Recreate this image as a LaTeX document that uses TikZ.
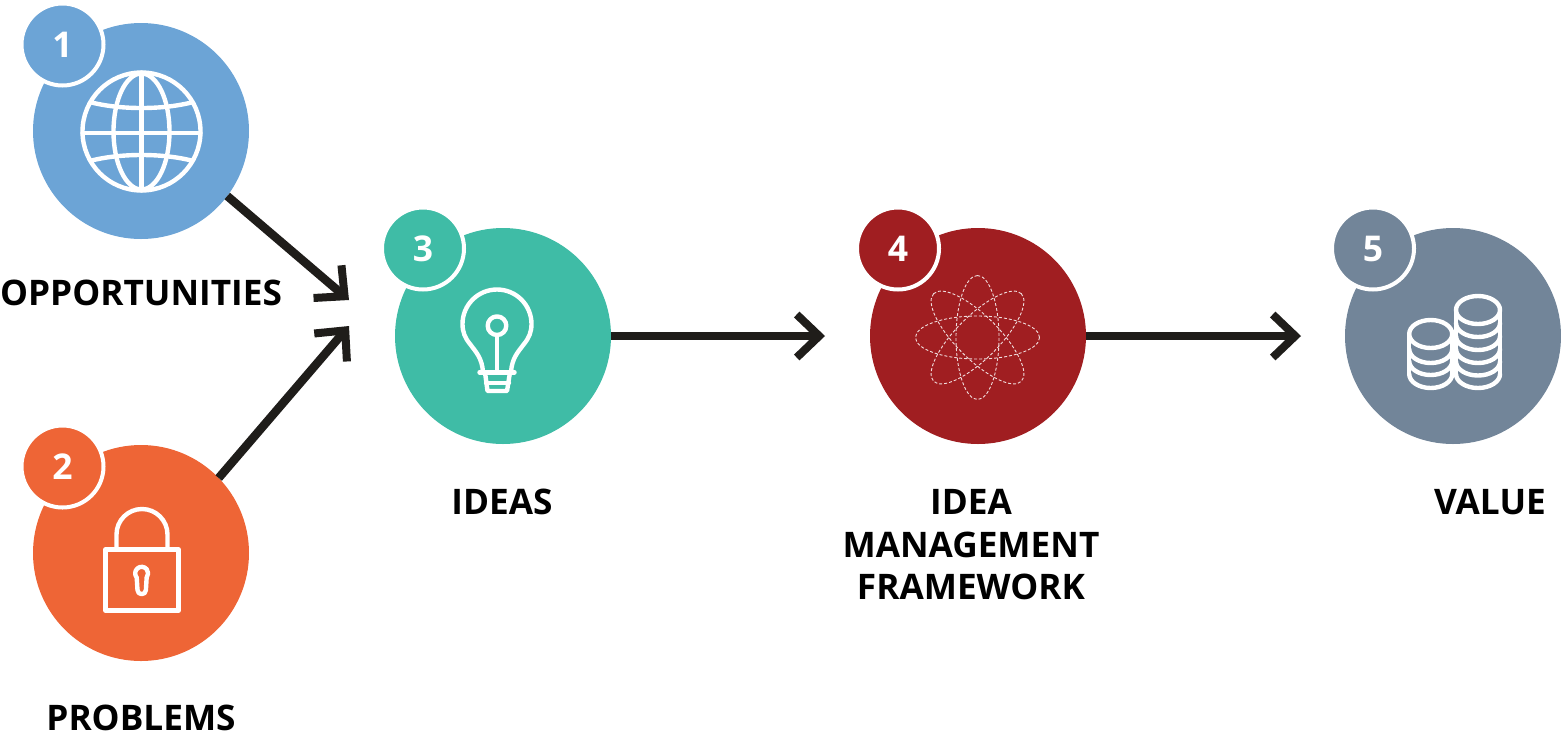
\documentclass[tikz,border=0pt]{standalone}
\usepackage{fontspec}
\setmainfont{Open Sans}
\usetikzlibrary{arrows.meta}
\definecolor{cblue}{HTML}{6CA4D6}
\definecolor{corange}{HTML}{EE6536}
\definecolor{cteal}{HTML}{3FBCA6}
\definecolor{cred}{HTML}{A01E21}
\definecolor{cgrey}{HTML}{728599}
\definecolor{cline}{HTML}{1F1D1A}
\tikzset{
  bigdot/.style={circle,fill=#1,minimum size=216pt,inner sep=0pt,outer sep=0pt},
  numdot/.style={circle,fill=#1,draw=white,line width=4pt,minimum size=82pt,inner sep=0pt,outer sep=0pt,text=white,font=\fontsize{35.5}{40}\selectfont\bfseries},
  lab/.style={anchor=base,align=center,text=black,font=\fontsize{35.2}{42.5}\selectfont\bfseries},
  flow/.style={draw=cline,line width=8.5pt,-{Straight Barb[length=22.5pt,width=43pt,line width=8pt]}},
  icon/.style={draw=white,line width=4.4pt,line join=round,line cap=round},
  orbit/.style={draw=white,line width=0.9pt,dash pattern=on 3pt off 2pt,opacity=.85}
}
\begin{document}
\begin{tikzpicture}[x=1pt,y=-1pt]
\useasboundingbox (0,0) rectangle (1561,740);
\coordinate (t1) at (349,300);
\coordinate (t2) at (349,326);
\coordinate (t3) at (825,336);
\coordinate (t4) at (1301,336);
% circles and connectors
\node[bigdot=cblue] (c1) at (141,131) {};
\node[bigdot=corange] (c2) at (141,553) {};
\node[bigdot=cteal] (c3) at (503,336) {};
\node[bigdot=cred] (c4) at (978,336) {};
\node[bigdot=cgrey] (c5) at (1453,336) {};
\draw[flow] (c1.-37.2) -- (t1);
\draw[flow] (c2.44) -- (t2);
\draw[flow] (c3.east) -- (t3);
\draw[flow] (c4.east) -- (t4);
% numbers
\node[numdot=cblue] (n1) at (62.5,44.5) {1};
\node[numdot=corange] (n2) at (62.5,466.5) {2};
\node[numdot=cteal] (n3) at (423,248.5) {3};
\node[numdot=cred] (n4) at (898,248.5) {4};
\node[numdot=cgrey] (n5) at (1373,248.5) {5};
% labels
\node[lab] (l1) at (141,305.5) {OPPORTUNITIES};
\node[lab] (l2) at (141,730.5) {PROBLEMS};
\node[lab] (l3) at (502,514.5) {IDEAS};
\node[lab,anchor=center] (l4) at (971,545) {IDEA\\MANAGEMENT\\FRAMEWORK};
\node[lab] (l5) at (1490,514.5) {VALUE};
% globe
\draw[icon] (141.5,131.5) circle[radius=59pt];
\draw[icon] (141.5,131.5) ellipse[x radius=28pt,y radius=58pt];
\draw[icon] (141.5,72.5) -- (141.5,190.5);
\draw[icon] (82.5,133) -- (200.5,133);
\draw[icon] (91.5,102.5) .. controls (108,106.5) and (125,108) .. (141.5,108) .. controls (158,108) and (175,106.5) .. (191.5,102.5);
\draw[icon] (91.5,160.5) .. controls (108,156.5) and (125,155) .. (141.5,155) .. controls (158,155) and (175,156.5) .. (191.5,160.5);
% lock
\draw[icon] (105.5,549.5) rectangle (178.5,610.5);
\draw[icon] (116.5,549.5) -- (116.5,534.5) arc[start angle=180,end angle=0,radius=25.5pt] -- (167.5,549.5);
\draw[icon] (136.7,577.5) arc[start angle=220,end angle=-40,radius=6.5pt] -- (145.9,590) arc[start angle=0,end angle=-180,radius=4.2pt] -- cycle;
% bulb
\draw[icon] (483,372) .. controls (482,358) and (476,352) .. (470,344) .. controls (465,338) and (462.5,332) .. (462.5,324)
  arc[start angle=180,end angle=0,radius=34.5pt]
  .. controls (531.5,332) and (529,338) .. (524,344) .. controls (518,352) and (512,358) .. (511,372);
\draw[icon] (497,325.7) circle[radius=9.3pt];
\draw[icon] (497,337) -- (497,372);
\draw[icon] (479.5,372.3) -- (514.5,372.3);
\draw[icon] (485,372.3) -- (487.5,391) -- (507,391) -- (510,372.3);
\draw[icon] (486,382.7) -- (509,382.7);
% atom
\foreach \ang in {0,45,90,135}{
  \draw[orbit,rotate around={\ang:(977.5,337.5)}] (977.5,337.5) ellipse[x radius=62pt,y radius=21.5pt];
}
% coins
\draw[icon] (1430.7,334) ellipse[x radius=21.5pt,y radius=14pt];
\draw[icon] (1409.2,334) -- (1409.2,374);
\draw[icon] (1452.2,334) -- (1452.2,374);
\foreach \yy in {349,361,374}{
  \draw[icon] (1409.2,\yy) arc[start angle=180,end angle=360,x radius=21.5pt,y radius=14pt];
}
\draw[icon] (1478,310) ellipse[x radius=22pt,y radius=14pt];
\draw[icon] (1456,310) -- (1456,374);
\draw[icon] (1500,310) -- (1500,374);
\foreach \yy in {323,336,349,361.5,374}{
  \draw[icon] (1456,\yy) arc[start angle=180,end angle=360,x radius=22pt,y radius=14pt];
}
\end{tikzpicture}
\end{document}
